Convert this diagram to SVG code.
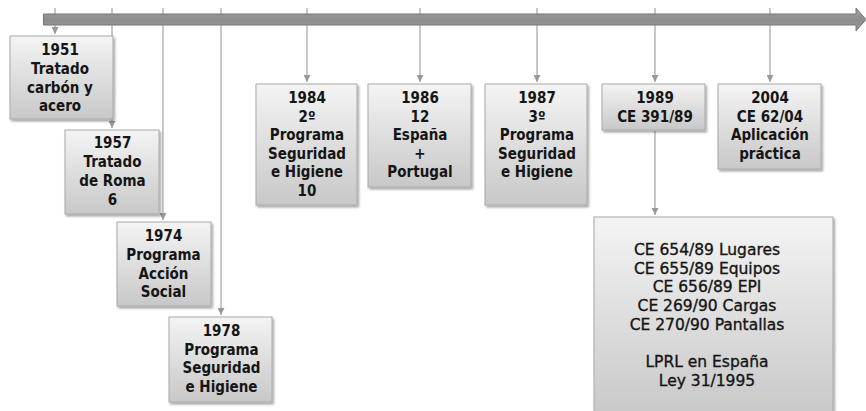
<svg xmlns="http://www.w3.org/2000/svg" width="866" height="411" viewBox="0 0 866 411">
<defs>
<linearGradient id="g" x1="0" y1="0" x2="0" y2="1">
<stop offset="0" stop-color="#f4f4f4"/>
<stop offset="1" stop-color="#c8c8c8"/>
</linearGradient>
<linearGradient id="bar" x1="0" y1="0" x2="0" y2="1">
<stop offset="0" stop-color="#a0a0a0"/>
<stop offset="0.5" stop-color="#8e8e8e"/>
<stop offset="1" stop-color="#969696"/>
</linearGradient>
<filter id="sh" x="-10%" y="-10%" width="130%" height="130%">
<feDropShadow dx="1.5" dy="2" stdDeviation="1.2" flood-color="#000" flood-opacity="0.35"/>
</filter>
<marker id="ah" viewBox="0 0 8 8" refX="8" refY="4" markerWidth="7" markerHeight="7" markerUnits="userSpaceOnUse" orient="auto">
<path d="M0,0 L8,4 L0,8 Z" fill="#999"/>
</marker>
</defs>
<style>
.box{fill:url(#g);stroke:#a8a8a8;stroke-width:1;filter:url(#sh)}
.t{font-family:"DejaVu Sans Condensed","DejaVu Sans",sans-serif;font-stretch:condensed;font-weight:bold;font-size:15px;fill:#151515;text-anchor:middle}
.r{font-family:"DejaVu Sans",sans-serif;font-size:15.5px;fill:#151515;stroke:#151515;stroke-width:0.35;text-anchor:middle}
.c{stroke:#a3a3a3;stroke-width:1.2;fill:none}
</style>
<g id="connectors">
<line class="c" x1="55" y1="8" x2="55" y2="34" marker-end="url(#ah)"/>
<line class="c" x1="112" y1="8" x2="112" y2="128" marker-end="url(#ah)"/>
<line class="c" x1="163" y1="8" x2="163" y2="220" marker-end="url(#ah)"/>
<line class="c" x1="221" y1="8" x2="221" y2="315" marker-end="url(#ah)"/>
<line class="c" x1="307" y1="8" x2="307" y2="82" marker-end="url(#ah)"/>
<line class="c" x1="420" y1="8" x2="420" y2="82" marker-end="url(#ah)"/>
<line class="c" x1="537" y1="8" x2="537" y2="82" marker-end="url(#ah)"/>
<line class="c" x1="655" y1="8" x2="655" y2="82" marker-end="url(#ah)"/>
<line class="c" x1="770" y1="8" x2="770" y2="82" marker-end="url(#ah)"/>
<line class="c" x1="655" y1="131" x2="655" y2="215" marker-end="url(#ah)"/>
</g>
<g id="timeline">
<path d="M43.5,14 L856,14 L856,8 L866,19.5 L856,31 L856,25 L43.5,25 Z" fill="url(#bar)" stroke="#777" stroke-width="1"/>
</g>
<g id="n1951">
<rect class="box" x="10" y="36" width="103" height="83"/>
<text class="t" x="60" y="55">1951</text>
<text class="t" x="60" y="74">Tratado</text>
<text class="t" x="60" y="92.5">carbón y</text>
<text class="t" x="60" y="111">acero</text>
</g>
<g id="n1957">
<rect class="box" x="65" y="130" width="94" height="84"/>
<text class="t" x="112.5" y="148">1957</text>
<text class="t" x="112.5" y="167">Tratado</text>
<text class="t" x="112.5" y="186">de Roma</text>
<text class="t" x="112.5" y="205">6</text>
</g>
<g id="n1974">
<rect class="box" x="117" y="222" width="94" height="84"/>
<text class="t" x="163.5" y="241">1974</text>
<text class="t" x="163.5" y="260">Programa</text>
<text class="t" x="163.5" y="279">Acción</text>
<text class="t" x="163.5" y="297">Social</text>
</g>
<g id="n1978">
<rect class="box" x="169" y="317" width="103" height="85"/>
<text class="t" x="221.5" y="336">1978</text>
<text class="t" x="221.5" y="355">Programa</text>
<text class="t" x="221.5" y="373">Seguridad</text>
<text class="t" x="221.5" y="392">e Higiene</text>
</g>
<g id="n1984">
<rect class="box" x="256" y="84" width="101" height="121"/>
<text class="t" x="307" y="103">1984</text>
<text class="t" x="307" y="122">2º</text>
<text class="t" x="307" y="140">Programa</text>
<text class="t" x="307" y="159">Seguridad</text>
<text class="t" x="307" y="177">e Higiene</text>
<text class="t" x="307" y="196">10</text>
</g>
<g id="n1986">
<rect class="box" x="368" y="84" width="103" height="103"/>
<text class="t" x="420" y="103">1986</text>
<text class="t" x="420" y="122">12</text>
<text class="t" x="420" y="140">España</text>
<text class="t" x="420" y="159">+</text>
<text class="t" x="420" y="177">Portugal</text>
</g>
<g id="n1987">
<rect class="box" x="485" y="84" width="102" height="121"/>
<text class="t" x="537" y="103">1987</text>
<text class="t" x="537" y="122">3º</text>
<text class="t" x="537" y="140">Programa</text>
<text class="t" x="537" y="159">Seguridad</text>
<text class="t" x="537" y="177">e Higiene</text>
</g>
<g id="n1989">
<rect class="box" x="602" y="84" width="103" height="46"/>
<text class="t" x="655" y="103">1989</text>
<text class="t" x="655" y="122">CE 391/89</text>
</g>
<g id="n2004">
<rect class="box" x="718" y="84" width="103" height="85"/>
<text class="t" x="770" y="103">2004</text>
<text class="t" x="770" y="122">CE 62/04</text>
<text class="t" x="770" y="140">Aplicación</text>
<text class="t" x="770" y="159">práctica</text>
</g>
<g id="directivas">
<rect class="box" x="594" y="217" width="239" height="200"/>
<text class="r" x="707" y="255">CE 654/89 Lugares</text>
<text class="r" x="707" y="273.5">CE 655/89 Equipos</text>
<text class="r" x="707" y="292">CE 656/89 EPI</text>
<text class="r" x="707" y="311">CE 269/90 Cargas</text>
<text class="r" x="707" y="329.5">CE 270/90 Pantallas</text>
<text class="r" x="707" y="367">LPRL en España</text>
<text class="r" x="707" y="385.5">Ley 31/1995</text>
</g>
</svg>
